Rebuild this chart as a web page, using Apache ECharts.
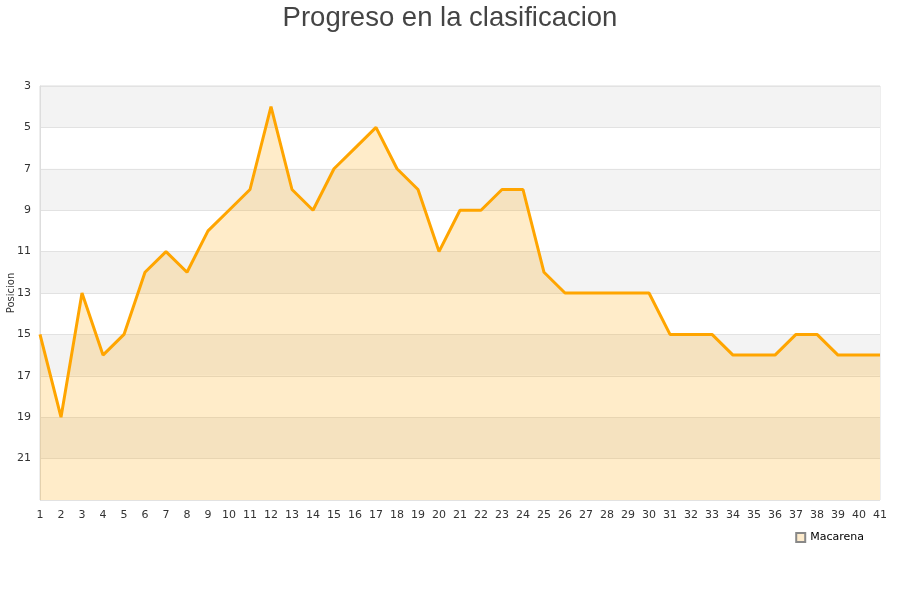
<!DOCTYPE html>
<html><head><meta charset="utf-8">
<script src="https://cdn.jsdelivr.net/npm/echarts@6/dist/echarts.min.js"></script>
<style>html,body{margin:0;padding:0;background:#fff}#c{width:900px;height:600px}</style>
</head><body><div id="c"></div>
<script>
const jornadas = ['1','2','3','4','5','6','7','8','9','10','11','12','13','14','15','16','17','18','19','20','21','22','23','24','25','26','27','28','29','30','31','32','33','34','35','36','37','38','39','40','41'];
const macarena = [15,19,13,16,15,12,11,12,10,9,8,4,8,9,7,6,5,7,8,11,9,9,8,8,12,13,13,13,13,13,15,15,15,16,16,16,15,15,16,16,16];
const yTicks = [3,5,7,9,11,13,15,17,19,21];

const chart = echarts.init(document.getElementById('c'), null, {renderer:'canvas'});
chart.setOption({
  animation:false,
  title:{text:'Progreso en la clasificacion', left:'center', top:-1,
    textStyle:{fontFamily:'Liberation Sans, Arial', fontWeight:'normal', fontSize:27.5, color:'#444'}},
  grid:{left:40, right:20, top:86, bottom:100, containLabel:false, outerBoundsMode:'none',
    show:true, borderColor:'#ddd', borderWidth:1, backgroundColor:'transparent'},
  legend:{data:[{name:'Macarena', icon:'rect'}], right:28, top:530, itemWidth:9, itemHeight:9, itemGap:6,
    backgroundColor:'#fff', padding:[2,8,4,4], z:10,
    textStyle:{fontFamily:'DejaVu Sans', fontSize:11, color:'#000'}},
  xAxis:{type:'category', data:jornadas, boundaryGap:false,
    axisLine:{show:false}, axisTick:{show:false},
    axisLabel:{fontFamily:'DejaVu Sans', fontSize:11, color:'#333', margin:10, interval:0},
    splitLine:{show:false}},
  yAxis:{type:'value', inverse:true, min:3, max:23, interval:2,
    name:'Posicion', nameLocation:'middle', nameGap:24, nameRotate:90, nameMoveOverlap:false,
    nameTextStyle:{fontFamily:'DejaVu Sans', fontSize:10, color:'#333'},
    axisLine:{show:true, lineStyle:{color:'#ddd'}}, axisTick:{show:false},
    axisLabel:{fontFamily:'DejaVu Sans', fontSize:11, color:'#333', margin:9,
      formatter:function(v){return yTicks.indexOf(v)>=0 ? String(v) : '';}},
    splitLine:{show:true, lineStyle:{color:'#e2e2e2'}},
    splitArea:{show:true, areaStyle:{color:['#f3f3f3','#ffffff']}}},
  series:[{name:'Macarena', type:'line', data:macarena, symbol:'none',
    lineStyle:{color:'#ffa500', width:3},
    itemStyle:{color:'#fdebcc', borderColor:'#888', borderWidth:1},
    areaStyle:{color:'#ffa500', opacity:0.21, origin:'end'}}]
});
</script></body></html>
